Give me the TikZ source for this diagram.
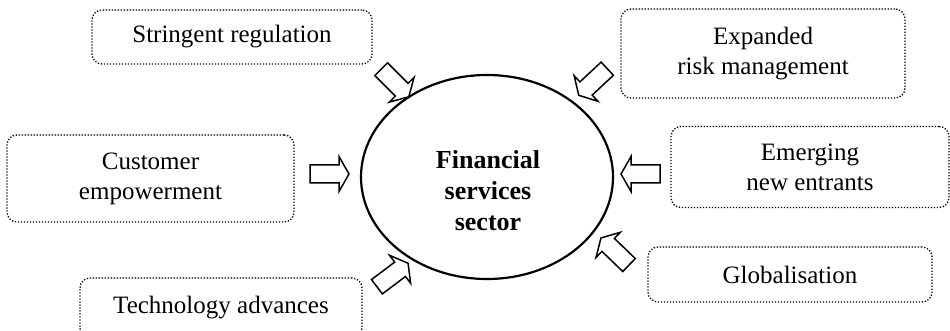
\documentclass[tikz,border=0pt]{standalone}
\usepackage{fontspec}
\setmainfont{Liberation Serif}
\usetikzlibrary{shapes.geometric}
\tikzset{
  factor/.style={draw, dash pattern=on 1.3pt off 1.7pt, line width=1.3pt,
    rounded corners=10pt, align=center, inner sep=0pt,
    font=\fontsize{25}{30}\selectfont},
  core/.style={draw, ellipse, line width=2.2pt, inner sep=0pt},
  coretext/.style={align=center, inner sep=0pt, font=\bfseries\fontsize{26}{31}\selectfont},
  blockarrow/.style={draw, line width=1.5pt, fill=white, line join=miter},
  barrow/.pic={\draw[blockarrow] (-19.5,-9) -- (9.5,-9) -- (9.5,-17.5) -- (19.5,0)
     -- (9.5,17.5) -- (9.5,9) -- (-19.5,9) -- cycle;}
}
\begin{document}
\begin{tikzpicture}[x=1pt,y=-1pt]
\useasboundingbox (0,0) rectangle (950,331);
% factor boxes
\node[factor, minimum width=280pt, minimum height=54pt] (reg) at (232,37) {Stringent regulation};
\node[factor, minimum width=284pt, minimum height=89pt] (risk) at (763,53.5) {Expanded\\risk management};
\node[factor, minimum width=287pt, minimum height=87pt] (cust) at (150.5,178.5) {Customer\\empowerment};
\node[factor, minimum width=278pt, minimum height=81pt] (entr) at (810,167) {Emerging\\new entrants};
\node[factor, minimum width=284pt, minimum height=55pt] (glob) at (790,274.5) {Globalisation};
\node[factor, minimum width=282pt, minimum height=60pt] (tech) at (221,308) {Technology advances};
% core ellipse
\node[core, minimum width=252pt, minimum height=204pt] (sector) at (487,177) {};
\node[coretext] (sectortext) at (488,191) {Financial\\services\\sector};
% block arrows
\pic[rotate=-45] (areg) at (395,83) {barrow};
\pic[rotate=-137] (arisk) at (593,82) {barrow};
\pic[rotate=0] (acust) at (329.5,174) {barrow};
\pic[rotate=180] (aentr) at (640.5,174) {barrow};
\pic[rotate=136] (aglob) at (615,251.5) {barrow};
\pic[rotate=37] (atech) at (392.5,275) {barrow};
\end{tikzpicture}
\end{document}
